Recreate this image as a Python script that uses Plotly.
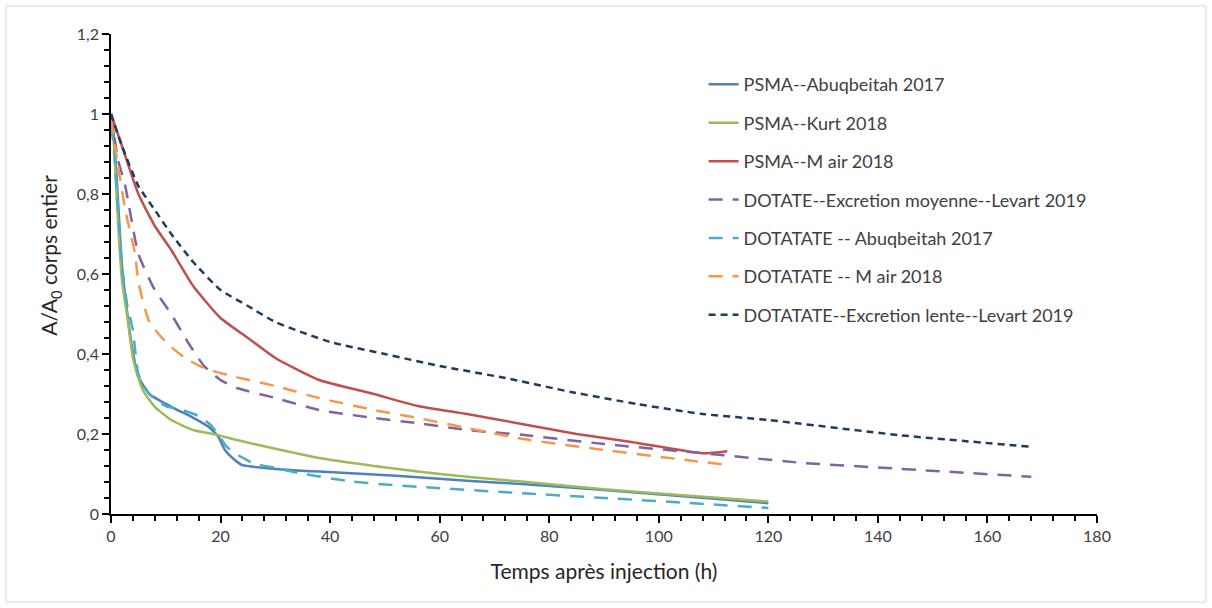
import plotly.graph_objects as go

# ---- data (hours, A/A0) ----
psma_abuq_t = [0, 0.5, 1, 2, 3, 3.8, 5, 7, 11, 14.7, 17.8, 19.6, 20.8, 22.6, 24, 29, 38, 48, 56, 65, 75, 90, 105, 120]
psma_abuq_v = [1.0, 0.95, 0.85, 0.62, 0.5, 0.42, 0.343, 0.30, 0.268, 0.243, 0.218, 0.193, 0.16, 0.135, 0.122, 0.114, 0.106, 0.099, 0.092, 0.083, 0.075, 0.06, 0.044, 0.027]

psma_kurt_t = [0, 0.5, 1, 1.5, 2, 3, 4, 5, 6, 8, 11, 15, 19, 23, 30, 38, 48, 56, 65, 75, 90, 105, 120]
psma_kurt_v = [0.97, 0.93, 0.8, 0.68, 0.585, 0.49, 0.39, 0.34, 0.305, 0.268, 0.235, 0.21, 0.199, 0.185, 0.163, 0.14, 0.12, 0.106, 0.093, 0.081, 0.062, 0.046, 0.031]

psma_mair_t = [0, 2, 5, 8, 11, 15, 20, 25, 30, 38, 48, 56, 65, 75, 85, 95, 108, 112.5]
psma_mair_v = [1.0, 0.92, 0.80, 0.72, 0.66, 0.57, 0.49, 0.44, 0.39, 0.335, 0.30, 0.27, 0.25, 0.225, 0.20, 0.18, 0.152, 0.157]

dotate_moy_t = [0, 1.3, 2.6, 5, 8, 11, 14, 17, 20, 23, 30, 38, 48, 56, 65, 75, 90, 107, 117, 126, 144, 168]
dotate_moy_v = [1.0, 0.885, 0.82, 0.65, 0.56, 0.50, 0.43, 0.37, 0.335, 0.315, 0.29, 0.26, 0.24, 0.227, 0.21, 0.198, 0.175, 0.153, 0.14, 0.128, 0.113, 0.093]

dotatate_abuq_t = [0, 0.5, 1, 2, 3, 4, 5, 7, 10, 13, 16, 18, 19.6, 21, 22.6, 26, 30, 34.5, 44, 56, 75, 90, 105, 120]
dotatate_abuq_v = [0.97, 0.92, 0.82, 0.62, 0.52, 0.46, 0.35, 0.30, 0.27, 0.26, 0.245, 0.225, 0.20, 0.17, 0.152, 0.127, 0.115, 0.102, 0.081, 0.068, 0.052, 0.04, 0.028, 0.015]

dotatate_mair_t = [0, 1.3, 2.6, 4.4, 5, 7, 10, 13.5, 17, 22, 30, 38, 48, 56, 65, 75, 90, 105, 113]
dotatate_mair_v = [0.985, 0.87, 0.76, 0.65, 0.58, 0.48, 0.43, 0.39, 0.365, 0.345, 0.32, 0.29, 0.26, 0.24, 0.215, 0.188, 0.16, 0.135, 0.122]

dotatate_lente_t = [0, 2, 5, 8, 11, 15, 20, 25, 30, 40, 50, 60, 72, 84, 96, 108, 120, 144, 168]
dotatate_lente_v = [1.0, 0.92, 0.82, 0.76, 0.70, 0.63, 0.56, 0.52, 0.48, 0.43, 0.40, 0.37, 0.34, 0.305, 0.275, 0.25, 0.235, 0.197, 0.168]

series = [
    ("PSMA--Abuqbeitah 2017", psma_abuq_t, psma_abuq_v, "#4F81BD", "solid"),
    ("PSMA--Kurt 2018", psma_kurt_t, psma_kurt_v, "#9BBB59", "solid"),
    ("PSMA--M air 2018", psma_mair_t, psma_mair_v, "#C0504D", "solid"),
    ("DOTATE--Excretion moyenne--Levart 2019", dotate_moy_t, dotate_moy_v, "#8064A2", "14px,10px"),
    ("DOTATATE -- Abuqbeitah 2017", dotatate_abuq_t, dotatate_abuq_v, "#4BACC6", "14px,10px"),
    ("DOTATATE -- M air 2018", dotatate_mair_t, dotatate_mair_v, "#F79646", "14px,10px"),
    ("DOTATATE--Excretion lente--Levart 2019", dotatate_lente_t, dotatate_lente_v, "#1F3B5E", "7px,5px"),
]

fig = go.Figure()
for i, (name, t, v, col, dash) in enumerate(series):
    fig.add_trace(go.Scatter(
        x=t, y=v, name=name, mode="lines", legendgroup=f"g{i}",
        line=dict(color=col, width=2.5, dash=dash, shape="spline", smoothing=0.5),
    ))

font_family = "Lato"
tick_font = dict(family=font_family, size=16, color="#404040")
title_font = dict(family=font_family, size=21, color="#262626")

fig.update_layout(
    width=1212, height=608,
    margin=dict(l=111, r=115, t=34, b=94),
    paper_bgcolor="white", plot_bgcolor="white",
    separators=", ",
    showlegend=True,
    legend=dict(
        x=0.601, y=0.933, xanchor="left", yanchor="top",
        font=dict(family=font_family, size=18, color="#404040"),
        tracegroupgap=12, bgcolor="rgba(0,0,0,0)",
    ),
    xaxis=dict(
        range=[0, 180], dtick=20, tick0=0,
        showgrid=False, zeroline=False,
        showline=True, linecolor="#000000", linewidth=1.5, mirror=False,
        ticks="outside", ticklen=7, tickcolor="#000000", tickwidth=2,
        minor=dict(dtick=4, ticks="outside", ticklen=5, tickcolor="#000000", tickwidth=2),
        tickfont=tick_font,
        title=dict(text="Temps après injection (h)", font=title_font, standoff=20),
    ),
    yaxis=dict(
        range=[0, 1.2], dtick=0.2, tick0=0,
        showgrid=False, zeroline=False,
        showline=True, linecolor="#000000", linewidth=1.5,
        ticks="outside", ticklen=7, tickcolor="#000000", tickwidth=2,
        minor=dict(dtick=0.04, ticks="outside", ticklen=5, tickcolor="#000000", tickwidth=2),
        tickfont=tick_font,
    ),
    xaxis2=dict(
        overlaying="x", anchor="y", side="bottom", range=[0, 180], dtick=20, tick0=0,
        showticklabels=False, showgrid=False, zeroline=False, showline=False,
        ticks="inside", ticklen=6, tickcolor="#000000", tickwidth=2,
        minor=dict(dtick=4, ticks="inside", ticklen=4, tickcolor="#000000", tickwidth=2),
    ),
    yaxis2=dict(
        overlaying="y", anchor="x", side="left", range=[0, 1.2], dtick=0.2, tick0=0,
        showticklabels=False, showgrid=False, zeroline=False, showline=False,
        ticks="inside", ticklen=6, tickcolor="#000000", tickwidth=2,
        minor=dict(dtick=0.04, ticks="inside", ticklen=4, tickcolor="#000000", tickwidth=2),
    ),
    annotations=[dict(
        text="A/A<sub>0</sub> corps entier", xref="paper", yref="paper",
        x=-0.0619, y=0.54, xanchor="center", yanchor="middle",
        textangle=-90, showarrow=False, font=title_font,
    )],
    shapes=[dict(type="rect", xref="paper", yref="paper",
                 x0=-0.1065, x1=1.1105, y0=-0.1833, y1=1.0583,
                 line=dict(color="#D9D9D9", width=1), layer="below")],
)

fig.write_html("out.html")
